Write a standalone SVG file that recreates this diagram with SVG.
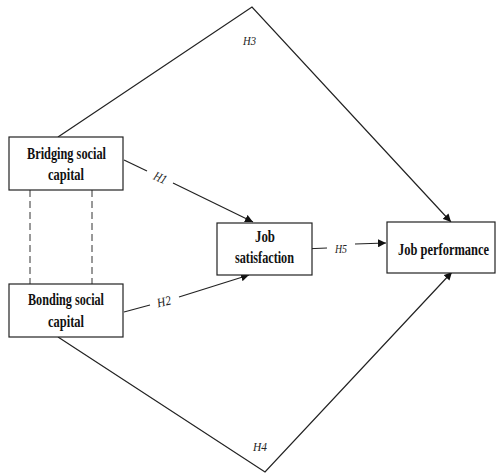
<svg xmlns="http://www.w3.org/2000/svg" width="499" height="473" viewBox="0 0 499 473">
<defs>
<style>
.box{fill:#fff;stroke:#222;stroke-width:1.2}
.lbl{font-family:"Liberation Serif",serif;font-weight:bold;font-size:16px;fill:#111}
.h{font-family:"Liberation Serif",serif;font-style:italic;font-size:13px;fill:#222}
.ln{fill:none;stroke:#222;stroke-width:1.2}
.dash{fill:none;stroke:#333;stroke-width:1;stroke-dasharray:7,4}
</style>
<marker id="arr" viewBox="0 0 10 10" refX="10" refY="5" markerWidth="8" markerHeight="8" markerUnits="userSpaceOnUse" orient="auto">
<path d="M0,0 L10,5 L0,10 z" fill="#111"/>
</marker>
</defs>
<rect width="499" height="473" fill="#fff"/>
<g id="connectors">
<line class="dash" x1="30" y1="190" x2="30" y2="284"/>
<line class="dash" x1="92" y1="190" x2="92" y2="284"/>
<polyline class="ln" points="58,137 252,7 451,222" marker-end="url(#arr)"/>
<polyline class="ln" points="58,337 265,472 452,272" marker-end="url(#arr)"/>
<line class="ln" x1="124" y1="160" x2="147" y2="171"/>
<line class="ln" x1="173" y1="183" x2="253" y2="222" marker-end="url(#arr)"/>
<line class="ln" x1="124" y1="312" x2="150" y2="305"/>
<line class="ln" x1="179" y1="297" x2="249" y2="275" marker-end="url(#arr)"/>
<line class="ln" x1="303" y1="249" x2="327" y2="248"/>
<line class="ln" x1="355" y1="244" x2="386" y2="243" marker-end="url(#arr)"/>
<text class="h" x="160" y="182" text-anchor="middle" transform="rotate(25 160 178)" textLength="13" lengthAdjust="spacingAndGlyphs">H1</text>
<text class="h" x="164" y="306" text-anchor="middle" transform="rotate(-13 164 302)" textLength="14" lengthAdjust="spacingAndGlyphs">H2</text>
<text class="h" x="243" y="45" textLength="13" lengthAdjust="spacingAndGlyphs">H3</text>
<text class="h" x="253" y="451" textLength="14" lengthAdjust="spacingAndGlyphs">H4</text>
<text class="h" x="335" y="253" textLength="12" lengthAdjust="spacingAndGlyphs">H5</text>
</g>
<g id="bridging">
<rect class="box" x="9" y="137" width="114" height="53"/>
<text class="lbl" x="27" y="159" textLength="79" lengthAdjust="spacingAndGlyphs">Bridging social</text>
<text class="lbl" x="48" y="180" textLength="36" lengthAdjust="spacingAndGlyphs">capital</text>
</g>
<g id="bonding">
<rect class="box" x="9" y="284" width="114" height="53"/>
<text class="lbl" x="28" y="305" textLength="76" lengthAdjust="spacingAndGlyphs">Bonding social</text>
<text class="lbl" x="48" y="327" textLength="36" lengthAdjust="spacingAndGlyphs">capital</text>
</g>
<g id="job-satisfaction">
<rect class="box" x="217" y="223" width="95" height="52"/>
<text class="lbl" x="255" y="242" textLength="20" lengthAdjust="spacingAndGlyphs">Job</text>
<text class="lbl" x="235" y="263" textLength="59" lengthAdjust="spacingAndGlyphs">satisfaction</text>
</g>
<g id="job-performance">
<rect class="box" x="387" y="222" width="108" height="51"/>
<text class="lbl" x="0" y="0" transform="translate(398,255) scale(0.78,1)">Job performance</text>
</g>
</svg>
